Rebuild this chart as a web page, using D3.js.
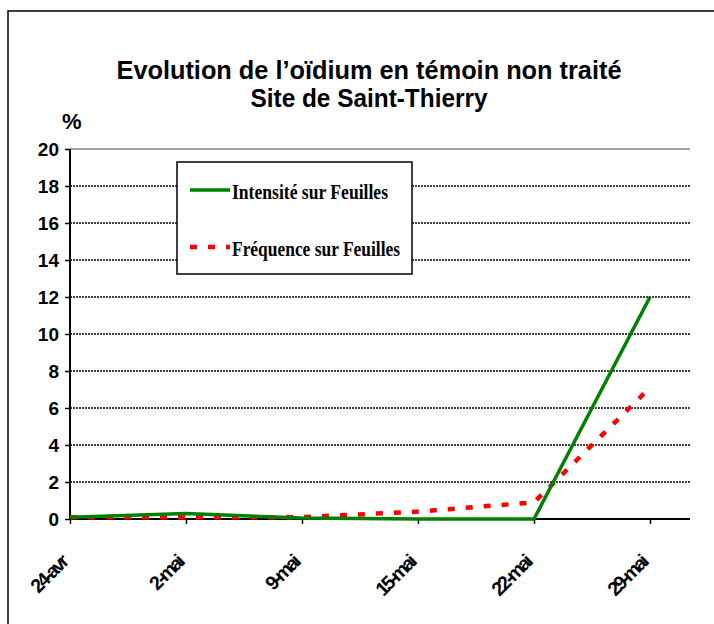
<!DOCTYPE html>
<html>
<head>
<meta charset="utf-8">
<script src="https://cdn.jsdelivr.net/npm/d3@7"></script>
<style>
  body { margin: 0; background: #fff; }
  svg { display: block; }
</style>
</head>
<body>
<div id="chart"></div>
<script>
// data
var dates = ['24-avr', '2-mai', '9-mai', '15-mai', '22-mai', '29-mai'];
var intensite = [0.1, 0.3, 0.05, 0, 0, 12];
var frequence = [0.1, 0.1, 0.1, 0.4, 0.9, 7.1];
var yTicks = [0, 2, 4, 6, 8, 10, 12, 14, 16, 18, 20];
var titleLines = ['Evolution de l\u2019oïdium en témoin non traité', 'Site de Saint-Thierry'];
var seriesNames = ['Intensité sur Feuilles', 'Fréquence sur Feuilles'];

var svgWidth = 714;
var svgHeight = 624;

var margin = { top: 149, left: 70 };
var plotRight = 690;
var plotBottom = 519;

var sansFont = 'Liberation Sans, Arial, sans-serif';

var svg = d3.select('#chart')
    .append('svg')
    .attr('width', svgWidth)
    .attr('height', svgHeight);

// outer frame (runs off the right / bottom)
svg.append('rect')
    .attr('x', 8)
    .attr('y', 11)
    .attr('width', 760)
    .attr('height', 700)
    .attr('fill', 'none')
    .attr('stroke', '#000')
    .attr('stroke-width', 1.5);

// title, centred on the whole chart frame
var titleWidths = [505, 237];
svg.append('g')
    .selectAll('text')
    .data(titleLines)
    .enter()
    .append('text')
    .attr('x', (d, i) => 369 - titleWidths[i] / 2)
    .attr('y', (d, i) => 79 + i * 28)
    .attr('font-family', sansFont)
    .attr('font-weight', 'bold')
    .attr('font-size', 25)
    .attr('textLength', (d, i) => titleWidths[i])
    .attr('lengthAdjust', 'spacingAndGlyphs')
    .text(d => d);

svg.append('text')
    .attr('x', 62)
    .attr('y', 129)
    .attr('font-family', sansFont)
    .attr('font-weight', 'bold')
    .attr('font-size', 22)
    .text('%');

// scales
var x = d3.scalePoint()
    .domain(dates)
    .range([margin.left, 650]);

var y = d3.scaleLinear()
    .domain([0, 20])
    .range([plotBottom, margin.top]);

// gridlines
svg.append('g')
    .selectAll('line')
    .data(yTicks.filter(d => d > 0))
    .enter()
    .append('line')
    .attr('x1', margin.left)
    .attr('x2', plotRight)
    .attr('y1', d => y(d))
    .attr('y2', d => y(d))
    .attr('stroke', d => d === 20 ? '#808080' : '#000')
    .attr('stroke-width', d => d === 20 ? 1.5 : 1.3)
    .attr('stroke-dasharray', d => d === 20 ? null : '2,1');

// y axis
var leftAxis = d3.axisLeft(y)
    .tickValues(yTicks)
    .tickSize(5)
    .tickPadding(6)
    .tickFormat(d3.format('d'));

var yAxis = svg.append('g')
    .attr('transform', `translate(${margin.left}, 0)`)
    .call(leftAxis);
yAxis.select('.domain').remove();
yAxis.selectAll('line').attr('stroke', '#000').attr('stroke-width', 1.5);
yAxis.selectAll('text')
    .attr('font-family', sansFont)
    .attr('font-weight', 'bold')
    .attr('font-size', 19)
    .attr('fill', '#000');

svg.append('line')
    .attr('x1', margin.left).attr('x2', margin.left)
    .attr('y1', margin.top).attr('y2', plotBottom)
    .attr('stroke', '#000')
    .attr('stroke-width', 2);

// x axis
var bottomAxis = d3.axisBottom(x)
    .tickSize(5)
    .tickSizeOuter(0);

var xAxis = svg.append('g')
    .attr('transform', `translate(0, ${plotBottom})`)
    .call(bottomAxis);
xAxis.select('.domain').remove();
xAxis.selectAll('line').attr('stroke', '#000').attr('stroke-width', 1.5);
xAxis.selectAll('text')
    .attr('font-family', sansFont)
    .attr('font-weight', 'bold')
    .attr('font-size', 19.5)
    .attr('letter-spacing', -2.5)
    .attr('fill', '#000')
    .attr('text-anchor', 'end')
    .attr('dy', 0)
    .attr('y', 0)
    .attr('transform', 'translate(-2, 45) rotate(-45)');

svg.append('line')
    .attr('x1', margin.left).attr('x2', plotRight)
    .attr('y1', plotBottom).attr('y2', plotBottom)
    .attr('stroke', '#000')
    .attr('stroke-width', 2);

// series
var line = d3.line()
    .x((d, i) => x(dates[i]))
    .y(d => y(d));

svg.append('path')
    .datum(frequence)
    .attr('d', line)
    .attr('fill', 'none')
    .attr('stroke', '#ff0000')
    .attr('stroke-width', 4.5)
    .attr('stroke-dasharray', '7,11');

svg.append('path')
    .datum(intensite)
    .attr('d', line)
    .attr('fill', 'none')
    .attr('stroke', '#008000')
    .attr('stroke-width', 3.5);

// legend
var legend = svg.append('g');
legend.append('rect')
    .attr('x', 177)
    .attr('y', 162)
    .attr('width', 235)
    .attr('height', 112)
    .attr('fill', '#fff')
    .attr('stroke', '#000')
    .attr('stroke-width', 1.5);

var legendStyles = [
    { color: '#008000', dash: null, width: 3.5, textWidth: 156 },
    { color: '#ff0000', dash: '7,11', width: 4.5, textWidth: 168 }
];

seriesNames.forEach(function(name, i) {
    var s = legendStyles[i];
    var ly = 190 + i * 57;
    legend.append('line')
        .attr('x1', 190).attr('x2', 230)
        .attr('y1', ly).attr('y2', ly)
        .attr('stroke', s.color)
        .attr('stroke-width', s.width)
        .attr('stroke-dasharray', s.dash);
    legend.append('text')
        .attr('x', 232)
        .attr('y', ly + 9)
        .attr('font-family', 'Liberation Serif, Times New Roman, serif')
        .attr('font-weight', 'bold')
        .attr('font-size', 21)
        .attr('textLength', s.textWidth)
        .attr('lengthAdjust', 'spacingAndGlyphs')
        .text(name);
});
</script>
</body>
</html>
